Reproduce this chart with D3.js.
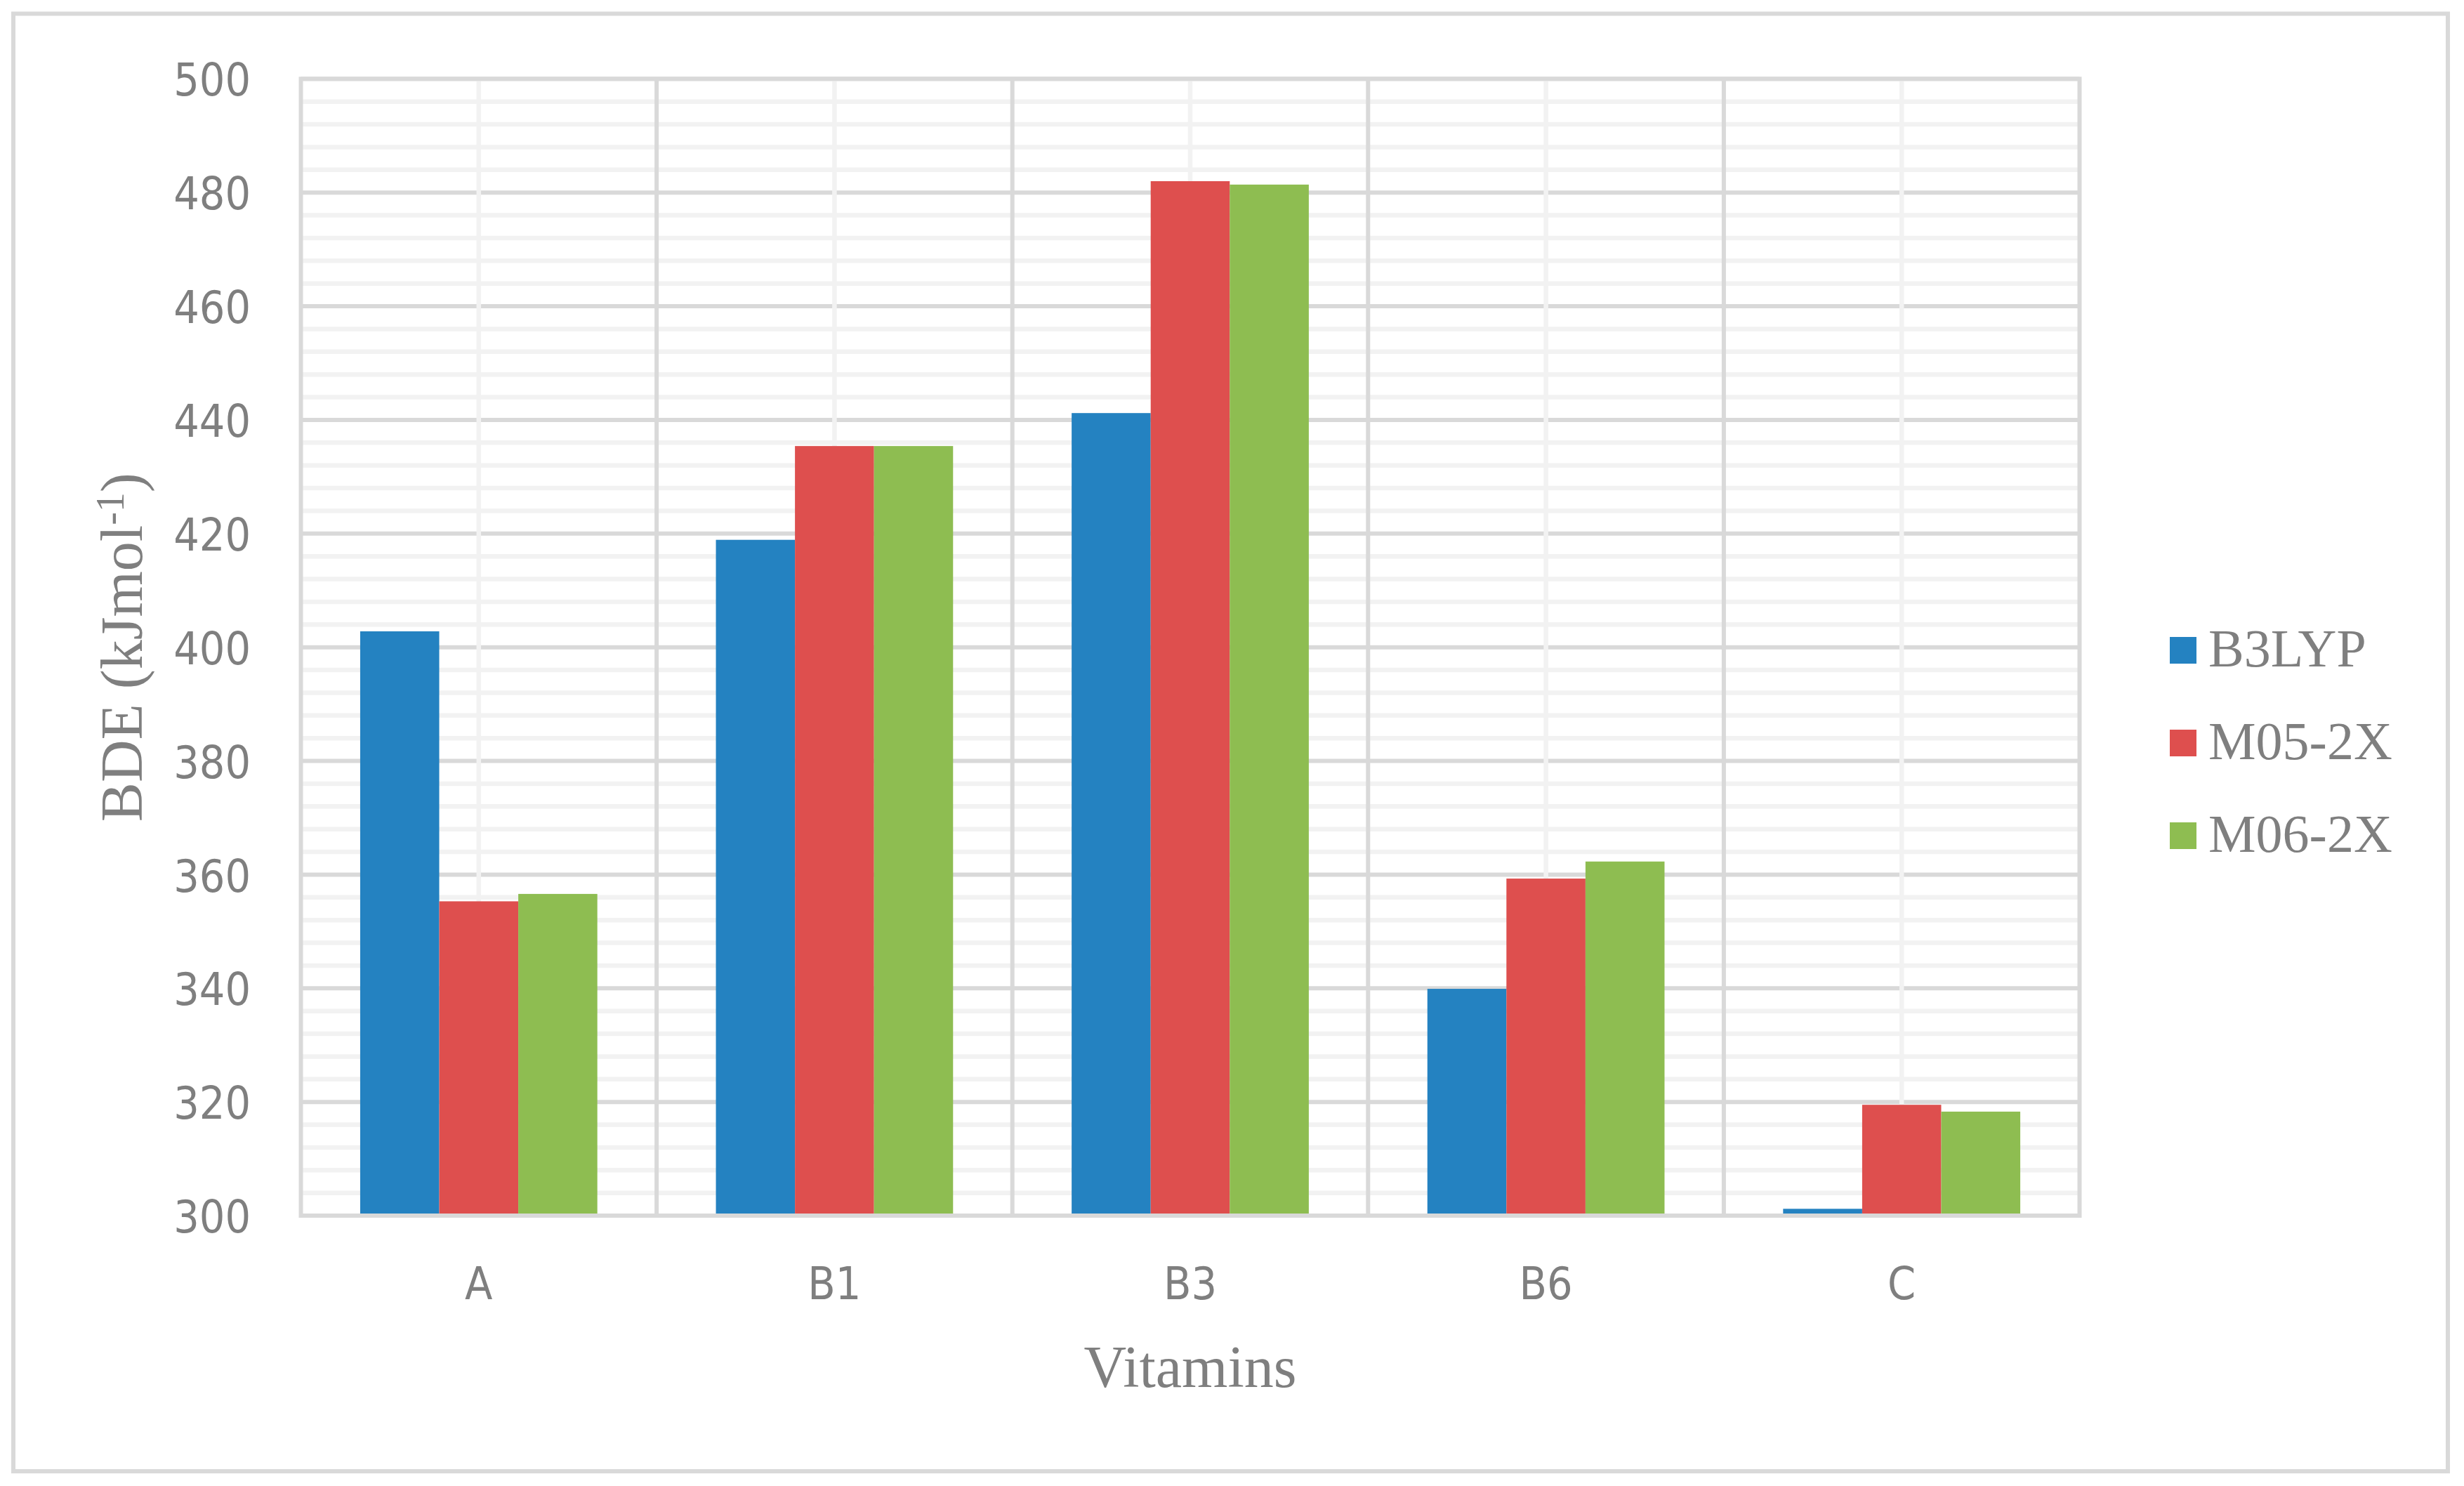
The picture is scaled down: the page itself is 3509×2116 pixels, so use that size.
<!DOCTYPE html>
<html>
<head>
<meta charset="utf-8">
<script src="https://cdn.jsdelivr.net/npm/d3@7"></script>
<style>
  html, body { margin: 0; padding: 0; background: #ffffff; }
  svg { display: block; }
</style>
</head>
<body>
<svg id="chart" width="3509" height="2116"></svg>
<script>
// ---- Data ----
const categories = ["A", "B1", "B3", "B6", "C"];
const seriesNames = ["B3LYP", "M05-2X", "M06-2X"];
const b3lyp = [402.8, 418.9, 441.2, 339.9, 301.2];
const m05 = [355.3, 435.4, 482.0, 359.3, 319.5];
const m06 = [356.6, 435.4, 481.4, 362.3, 318.3];
const yTicks = [300, 320, 340, 360, 380, 400, 420, 440, 460, 480, 500];
const seriesColors = ["#2482c1", "#de4f4e", "#8ebd51"];

const seriesValues = [b3lyp, m05, m06];

// ---- Layout ----
const W = 3509, H = 2116;
const plot = { left: 428.5, right: 2961.5, top: 112.3, bottom: 1731 };
const textGray = "#7f7f7f";
const majorGrid = "#d9d9d9";
const minorGrid = "#f2f2f2";

const svg = d3.select("#chart");
svg.append("rect").attr("x", 0).attr("y", 0).attr("width", W).attr("height", H).attr("fill", "#ffffff");

// outer chart border
svg.append("rect")
  .attr("x", 19).attr("y", 19.5)
  .attr("width", 3486 - 19).attr("height", 2095 - 19.5)
  .attr("fill", "none").attr("stroke", majorGrid).attr("stroke-width", 6);

const y = d3.scaleLinear().domain([300, 500]).range([plot.bottom, plot.top]);
const x0 = d3.scaleBand().domain(categories).range([plot.left, plot.right]).paddingInner(0).paddingOuter(0);
const catW = x0.bandwidth();
const barW = catW / 4.5;              // gap width 150%
const gapHalf = barW * 0.75;
const x1 = d3.scaleBand().domain(seriesNames).range([gapHalf, catW - gapHalf]).padding(0);

const grid = svg.append("g");

// minor horizontal gridlines (every 4)
const minorVals = d3.range(304, 500, 4).filter(v => v % 20 !== 0);
grid.selectAll("line.hmin").data(minorVals).enter().append("line")
  .attr("x1", plot.left).attr("x2", plot.right)
  .attr("y1", d => y(d)).attr("y2", d => y(d))
  .attr("stroke", minorGrid).attr("stroke-width", 6.5);

// major horizontal gridlines
grid.selectAll("line.hmaj").data(yTicks).enter().append("line")
  .attr("x1", plot.left).attr("x2", plot.right)
  .attr("y1", d => y(d)).attr("y2", d => y(d))
  .attr("stroke", majorGrid).attr("stroke-width", 6);

// minor vertical gridlines (category centres)
grid.selectAll("line.vmin").data(categories).enter().append("line")
  .attr("x1", d => x0(d) + catW / 2).attr("x2", d => x0(d) + catW / 2)
  .attr("y1", plot.top).attr("y2", plot.bottom)
  .attr("stroke", minorGrid).attr("stroke-width", 6.5);

// major vertical gridlines (category boundaries)
grid.selectAll("line.vmaj").data(categories.slice(1)).enter().append("line")
  .attr("x1", d => x0(d)).attr("x2", d => x0(d))
  .attr("y1", plot.top).attr("y2", plot.bottom)
  .attr("stroke", majorGrid).attr("stroke-width", 6);

// bars
const barsG = svg.append("g");
seriesNames.forEach((s, si) => {
  barsG.selectAll("rect.s" + si).data(categories).enter().append("rect")
    .attr("x", d => x0(d) + x1(s))
    .attr("width", x1.bandwidth())
    .attr("y", (d, i) => y(seriesValues[si][i]))
    .attr("height", (d, i) => y(300) - y(seriesValues[si][i]))
    .attr("fill", seriesColors[si]);
});

// plot border
svg.append("rect")
  .attr("x", plot.left).attr("y", plot.top)
  .attr("width", plot.right - plot.left).attr("height", plot.bottom - plot.top)
  .attr("fill", "none").attr("stroke", majorGrid).attr("stroke-width", 6);

// y axis labels
const tickFont = "'DejaVu Sans Condensed', 'DejaVu Sans', sans-serif";
const yAxis = svg.append("g")
  .attr("transform", `translate(${plot.left},0)`)
  .call(d3.axisLeft(y).tickValues(yTicks).tickSize(0).tickPadding(71.5).tickFormat(d3.format("d")));
yAxis.select(".domain").remove();
yAxis.attr("font-family", null).attr("font-size", null);
yAxis.selectAll("text")
  .attr("dy", "0.37em")
  .style("font-family", tickFont)
  .style("font-stretch", "condensed")
  .style("font-size", "64px")
  .attr("fill", textGray);

// x axis labels
const xAxis = svg.append("g")
  .attr("transform", `translate(0,${plot.bottom})`)
  .call(d3.axisBottom(x0).tickSize(0).tickPadding(74));
xAxis.select(".domain").remove();
xAxis.attr("font-family", null).attr("font-size", null);
xAxis.selectAll("text")
  .attr("dy", "0.71em")
  .style("font-family", tickFont)
  .style("font-stretch", "condensed")
  .style("font-size", "64px")
  .attr("fill", textGray);

// axis titles
const serif = "'Liberation Serif', 'Times New Roman', serif";
svg.append("text")
  .attr("x", (plot.left + plot.right) / 2).attr("y", 1975)
  .attr("text-anchor", "middle")
  .style("font-family", serif).style("font-size", "84px")
  .attr("fill", textGray)
  .text("Vitamins");

const yt = svg.append("text")
  .attr("transform", `translate(202,${(plot.top + plot.bottom) / 2}) rotate(-90)`)
  .attr("text-anchor", "middle")
  .style("font-family", serif).style("font-size", "84px")
  .attr("fill", textGray);
yt.append("tspan").text("BDE (kJmol");
yt.append("tspan").attr("dy", -26).style("font-size", "56px").text("-1");
yt.append("tspan").attr("dy", 26).text(")");

// legend
const legend = svg.append("g");
const legY = [926, 1058, 1190];
seriesNames.forEach((s, i) => {
  legend.append("rect")
    .attr("x", 3090).attr("y", legY[i] - 19)
    .attr("width", 38).attr("height", 38)
    .attr("fill", seriesColors[i]);
  legend.append("text")
    .attr("x", 3145).attr("y", legY[i] + 23)
    .style("font-family", serif).style("font-size", "76px")
    .attr("fill", textGray)
    .text(s);
});
</script>
</body>
</html>
